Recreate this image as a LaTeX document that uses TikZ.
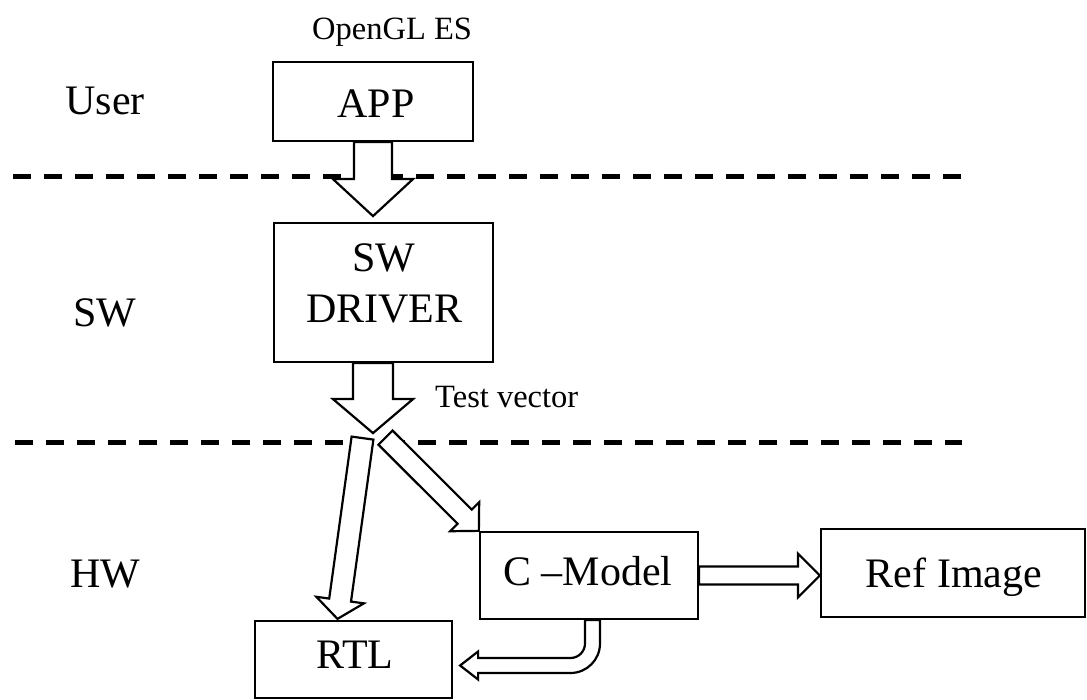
\documentclass[tikz,border=0pt]{standalone}
\usepackage{fontspec}
\setmainfont{Liberation Serif}
\usetikzlibrary{calc}

\tikzset{
  box/.style={draw, line width=2.2pt, fill=white, inner sep=0pt},
  big/.style={font=\fontsize{42}{50}\selectfont, inner sep=0pt, anchor=base},
  small/.style={font=\fontsize{32.5}{38}\selectfont, inner sep=0pt, anchor=base west},
  layerline/.style={line width=5pt, dash pattern=on 18pt off 13pt},
  blk/.style={draw, line width=2.2pt, fill=white, line join=miter},
}

% Outlined block arrow from #1 to #2:
% #3 = half shaft width, #4 = half head width, #5 = head length (all in pt)
\newcommand\blockarrow[5]{%
  \draw[blk] let \p1=(#1), \p2=(#2),
      \n1={atan2(\y2-\y1,\x2-\x1)}, \n2={veclen(\x2-\x1,\y2-\y1)}
    in [shift={(\p1)}, rotate=\n1]
    (0pt,#3pt) -- ({\n2-#5pt},#3pt) -- ({\n2-#5pt},#4pt) -- ({\n2+0pt},0pt)
    -- ({\n2-#5pt},-#4pt) -- ({\n2-#5pt},-#3pt) -- (0pt,-#3pt) -- cycle;}

\begin{document}
\begin{tikzpicture}[x=1pt, y=-1pt]
\useasboundingbox (0,0) rectangle (1087,700);

% blocks
\node[box, minimum width=200pt, minimum height=79pt]  (app) at (373,101.5) {};
\node[box, minimum width=219pt, minimum height=139pt] (drv) at (383.5,292.5) {};
\node[box, minimum width=218pt, minimum height=87pt]  (cm)  at (589,575.5) {};
\node[box, minimum width=264pt, minimum height=88pt]  (ref) at (953,573) {};
\node[box, minimum width=197pt, minimum height=77pt]  (rtl) at (353.5,659.5) {};

% block texts
\node[big] (apptxt) at (376,118) {APP};
\node[big] (drvtxt1) at (384,272) {SW};
\node[big] (drvtxt2) at (384.5,323) {DRIVER};
\node[big] (cmtxt)  at (588,585) {C –Model};
\node[big] (reftxt) at (954,587) {Ref Image};
\node[big] (rtltxt) at (355,668) {RTL};

% layer names and annotations
\node[big] (user) at (105,115) {User};
\node[big] (sw)   at (105,327) {SW};
\node[big] (hw)   at (105,587) {HW};
\node[small] (api) at (312,40) {OpenGL ES};
\node[small] (tv)  at (435,408) {Test vector};

% layer boundaries
\coordinate (d1s) at (13,177);
\coordinate (d1e) at (962,177);
\coordinate (d2s) at (15,442);
\coordinate (d2e) at (962,442);
\draw[layerline] (d1s) -- (d1e);
\draw[layerline] (d2s) -- (d2e);

% arrow end points
\coordinate (tipA)  at ($(app.south)+(0,74)$);
\coordinate (tailB) at ($(drv.south)+(-10.5,0)$);
\coordinate (split) at ($(tailB)+(0,70)$);
\coordinate (tailC) at ($(split)+(-10.5,5)$);
\coordinate (tipC)  at ($(rtl.north)+(-16,-1)$);
\coordinate (tailD) at ($(split)+(12.5,4.5)$);
\coordinate (tipE)  at (cm.east -| ref.west);
\coordinate (cmtail) at ($(cm.south)+(3.5,0)$);
\coordinate (rtltip) at ($(rtl.east)+(7,6)$);

% data flow
\blockarrow{app.south}{tipA}{19}{40}{37}
\blockarrow{tailB}{split}{20}{40}{34}
\blockarrow{tailC}{tipC}{11}{24}{19}
\blockarrow{tailD}{cm.north west}{10}{20.5}{20}
\blockarrow{cm.east}{tipE}{9}{22}{22}

% bent arrow from the C-Model back to the RTL
\draw[blk] let \p1=(cmtail), \p2=(rtltip) in
  (\x1-7.5pt,\y1) -- (\x1-7.5pt,\y2+22pt)
  .. controls (\x1-7.5pt,\y2+14pt) and (\x1-14pt,\y2+7.5pt) .. (\x1-22pt,\y2+7.5pt)
  -- (\x2+18pt,\y2+7.5pt) -- (\x2+18pt,\y2+14pt) -- (\p2)
  -- (\x2+18pt,\y2-14pt) -- (\x2+18pt,\y2-7.5pt) -- (\x1-22pt,\y2-7.5pt)
  .. controls (\x1-5.7pt,\y2-7.5pt) and (\x1+7.5pt,\y2+5.7pt) .. (\x1+7.5pt,\y2+22pt)
  -- (\x1+7.5pt,\y1) -- cycle;
\end{tikzpicture}
\end{document}
